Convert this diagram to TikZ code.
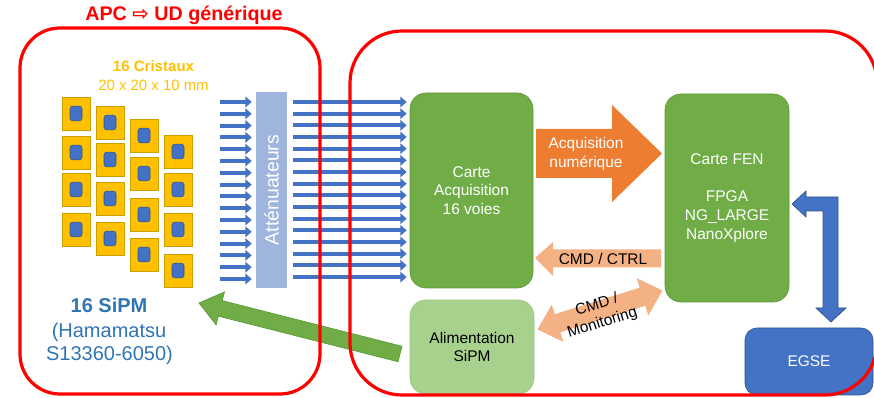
\documentclass[tikz,border=0pt]{standalone}
\usepackage{fontspec}
\setmainfont{Liberation Sans}
\newfontfamily\dejavu{DejaVu Sans}
\usetikzlibrary{arrows.meta}
\definecolor{boxred}{HTML}{FF0000}
\definecolor{gold}{HTML}{FFC000}
\definecolor{goldedge}{HTML}{C9A000}
\definecolor{cblue}{HTML}{4472C4}
\definecolor{blueedge}{HTML}{2F528F}
\definecolor{attblue}{HTML}{A0B5DE}
\definecolor{cgreen}{HTML}{70AD47}
\definecolor{greenedge}{HTML}{5E9A3A}
\definecolor{lgreen}{HTML}{A9D18E}
\definecolor{lgreenedge}{HTML}{9CC67F}
\definecolor{corange}{HTML}{ED7D31}
\definecolor{salmon}{HTML}{F4B183}
\definecolor{sipmtext}{HTML}{2E75B6}
\newcommand{\bodyf}{\fontsize{11.6pt}{14pt}\selectfont}
\begin{document}
\begin{tikzpicture}[x=0.75pt,y=-0.75pt,
  redbox/.style={draw=boxred, line width=2.4pt},
  card/.style={draw=greenedge, fill=cgreen, line width=0.5pt, rounded corners=12pt, text=white, align=center, inner sep=0pt, font=\bodyf},
  crystal/.style={draw=goldedge, fill=gold, line width=0.6pt, minimum width=21pt, minimum height=24.75pt, inner sep=0pt},
  sipm/.style={draw=blueedge, fill=cblue, line width=0.4pt, rounded corners=2pt, minimum width=9pt, minimum height=11pt, inner sep=0pt},
  bluearr/.style={draw=cblue, line width=3pt, -{Triangle[length=4.8pt,width=8pt]}},
  lbl/.style={inner sep=0pt, align=center, font=\bodyf},
]
\useasboundingbox (0,0) rectangle (874,398);

% title
\node[anchor=base, inner sep=0pt, text=boxred, font=\bfseries\fontsize{14.8pt}{17pt}\selectfont] (title) at (184,20.5) {APC {\dejavu ⇨} UD générique};

% crystals text
\node[anchor=base, inner sep=0pt, text=gold, font=\bfseries\fontsize{11.3pt}{13pt}\selectfont] (cristA) at (153.5,72) {16 Cristaux};
\node[anchor=base, inner sep=0pt, text=gold, font=\fontsize{11.2pt}{13pt}\selectfont] (cristB) at (153.5,90.5) {20 x 20 x 10 mm};

% crystals
\foreach \x/\y [count=\k] in {76/113.5,76/152.5,76/189.5,76/229.5,
                              110/122.5,110/159.5,110/198.5,110/238.5,
                              144/135.5,144/173.5,144/214.5,144/254.5,
                              178/151.5,178/189.5,178/229.5,178/270.5}{
  \node[crystal] (cr\k) at (\x,\y) {};
  \node[sipm] (sp\k) at (cr\k.center) {};
}

% SiPM text
\node[anchor=base, inner sep=0pt, text=sipmtext, font=\bfseries\fontsize{15pt}{17pt}\selectfont] (sipmA) at (109,313) {16 SiPM};
\node[anchor=base, inner sep=0pt, text=sipmtext, font=\fontsize{15pt}{17pt}\selectfont] (sipmB) at (109,338) {(Hamamatsu};
\node[anchor=base, inner sep=0pt, text=sipmtext, font=\fontsize{15pt}{17pt}\selectfont] (sipmC) at (109.5,361) {S13360-6050)};

% attenuator
\node[fill=attblue, minimum width=23.25pt, minimum height=147pt, inner sep=0pt] (att) at (271.5,190) {};
\node[rotate=90, inner sep=0pt, text=white, font=\fontsize{14.6pt}{17pt}\selectfont] (attlbl) at (att.center) {Atténuateurs};

% cards
\node[card, minimum width=92.25pt, minimum height=146.25pt] (acq) at (471.5,190.5) {Carte\\Acquisition\\16 voies};
\node[card, minimum width=93pt, minimum height=156pt] (fen) at (727,198) {Carte FEN\\[14pt]FPGA\\NG\_LARGE\\NanoXplore};
\node[card, fill=lgreen, draw=lgreenedge, text=black, minimum width=93pt, minimum height=70.5pt] (alim) at (472,347) {Alimentation\\SiPM};
\node[draw=blueedge, fill=cblue, line width=0.5pt, rounded corners=9pt, text=white, font=\bodyf, minimum width=96pt, minimum height=50.25pt, inner sep=0pt] (egse) at (809,361.5) {EGSE};

% small arrows into attenuator
\foreach \k in {0,...,15}{
  \coordinate (s\k) at (220,{102+\k*11.8});
  \draw[bluearr, shorten >=3pt] (s\k) -- (s\k -| att.west);
}
% long arrows into acquisition card
\foreach \k in {0,...,15}{
  \coordinate (l\k) at (293,{102+\k*11.67});
  \draw[bluearr, shorten >=2.25pt] (l\k) -- (l\k -| acq.west);
}

% orange arrow: acquisition numerique
\fill[corange] (536,129) -- (612,129) -- (612,105) -- (662,153.5) -- (612,202) -- (612,178) -- (536,178) -- cycle;
\node[lbl, text=white] (acqnum) at (586,154) {Acquisition\\numérique};

% CMD / CTRL arrow
\fill[salmon] (535,258) -- (553,242) -- (553,249.5) -- (661,249.5) -- (661,267.5) -- (553,267.5) -- (553,276) -- cycle;
\node[lbl] (ctrl) at (603,258.5) {CMD / CTRL};

% CMD / Monitoring double arrow
\begin{scope}[shift={(600,310)}, rotate=17.3]
  \fill[salmon] (-65.5,0) -- (-44.5,-19.5) -- (-44.5,-9.5) -- (44.5,-9.5) -- (44.5,-19.5) -- (65.5,0)
     -- (44.5,19.5) -- (44.5,9.5) -- (-44.5,9.5) -- (-44.5,19.5) -- cycle;
  \node[lbl, transform shape] (mon) at (-1.5,3.7) {CMD /\\Monitoring};
\end{scope}

% green arrow from alimentation to SiPM
\begin{scope}[shift={(299.5,328.5)}, rotate=-14.24]
  \filldraw[fill=cgreen, draw=greenedge, line width=0.5pt]
    (103.7,-8) -- (-81.7,-8) -- (-81.7,-17) -- (-103.7,0) -- (-81.7,17) -- (-81.7,8) -- (103.7,8) -- cycle;
\end{scope}

% blue L arrow FEN <-> EGSE
\filldraw[fill=cblue, draw=blueedge, line width=0.5pt]
  (792,204) -- (806,191) -- (806,197) -- (838,197) -- (838,308) -- (846,308) -- (831,322)
  -- (816,308) -- (823,308) -- (823,211) -- (806,211) -- (806,217) -- cycle;

% red outlines
\draw[redbox, rounded corners=30pt] (20,28) rectangle (320,394);
\draw[redbox, rounded corners=39pt] (350,31) rectangle (877,395);
\end{tikzpicture}
\end{document}
